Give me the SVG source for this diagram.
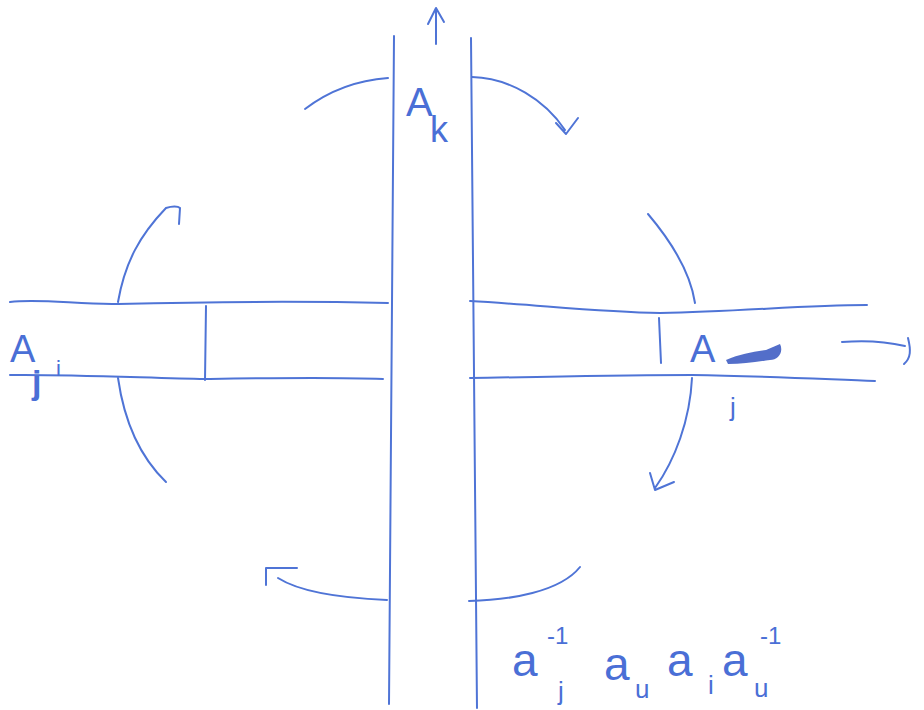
<svg xmlns="http://www.w3.org/2000/svg" width="924" height="710" viewBox="0 0 924 710">
<style>
.ln{fill:none;stroke:#4f74d6;stroke-width:2;stroke-linecap:round;stroke-linejoin:round}
.tx{font-family:"Liberation Sans",Arial,sans-serif;fill:#4a6fd6}
</style>
<rect width="924" height="710" fill="#ffffff"/>
<g id="band-vertical">
<path class="ln" d="M394,36 C393,200 390,450 389,704"/>
<path class="ln" d="M471,38 C473,200 475,450 477,708"/>
<path class="ln" d="M436,44 L436,10 M428,24 L436,8 L444,22"/>
</g>
<g id="band-left">
<path class="ln" d="M10,302 C40,298 80,305 118,304 C200,302 300,301 388,303"/>
<path class="ln" d="M10,375 C60,374 150,378 205,379 C270,378 330,377 383,379"/>
<path class="ln" d="M206,306 L205,380"/>
</g>
<g id="band-right">
<path class="ln" d="M470,301 C540,305 600,312 660,313 C740,312 800,305 867,305"/>
<path class="ln" d="M470,378 C540,377 620,375 692,375 C760,376 820,379 875,381"/>
<path class="ln" d="M659,318 L661,363"/>
</g>
<g id="labels">
<text class="tx" x="406" y="116" font-size="40">A</text>
<text class="tx" x="430" y="142" font-size="36">k</text>
<text class="tx" x="10" y="362" font-size="38">A</text>
<text class="tx" x="32" y="394" font-size="34" font-weight="bold" fill="#2f4fb8">j</text>
<text class="tx" x="56" y="376" font-size="22">i</text>
<text class="tx" x="690" y="362" font-size="38">A</text>
<path d="M726,360 C740,354 752,352 766,350 L780,344 C784,352 778,360 770,360 C756,362 742,364 728,364 Z" fill="#3555c0" opacity="0.85"/>
<text class="tx" x="730" y="416" font-size="26">j</text>
</g>
<g id="formula">
<text class="tx" x="512" y="676" font-size="46">a</text>
<text class="tx" x="547" y="644" font-size="24">-1</text>
<text class="tx" x="558" y="700" font-size="26">j</text>
<text class="tx" x="604" y="680" font-size="46">a</text>
<text class="tx" x="635" y="698" font-size="26">u</text>
<text class="tx" x="667" y="676" font-size="46">a</text>
<text class="tx" x="708" y="694" font-size="26">i</text>
<text class="tx" x="722" y="676" font-size="46">a</text>
<text class="tx" x="754" y="697" font-size="26">u</text>
<text class="tx" x="760" y="644" font-size="24">-1</text>
</g>
<g id="connectors">
<path class="ln" d="M118,302 C125,262 140,235 166,208 M166,208 C172,206 178,206 180,208 L179,224"/>
<path class="ln" d="M118,378 C124,420 138,455 166,482"/>
<path class="ln" d="M305,109 C330,90 360,80 388,78"/>
<path class="ln" d="M472,77 C510,78 545,100 565,130 M556,123 L566,134 L578,118"/>
<path class="ln" d="M648,214 C670,240 690,270 695,303"/>
<path class="ln" d="M692,378 C690,420 675,460 655,488 M650,473 L655,490 L674,482"/>
<path class="ln" d="M387,600 C340,598 300,592 278,578 M266,585 L266,568 L297,568"/>
<path class="ln" d="M469,601 C510,600 560,592 580,567"/>
<path class="ln" d="M842,342 C865,340 888,342 905,346 M908,338 C911,350 911,358 904,364"/>
</g>
</svg>
